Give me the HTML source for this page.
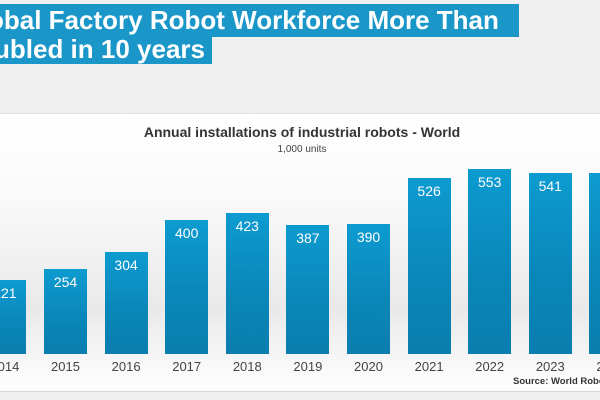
<!DOCTYPE html>
<html><head><meta charset="utf-8"><style>
body{margin:0;width:600px;height:400px;overflow:hidden;background:#f0f0f0;font-family:"Liberation Sans",Arial,sans-serif;position:relative}
.hl{position:absolute;left:0;background:#1a96c8;color:#fff;font-weight:bold;font-size:26px;line-height:29px;white-space:nowrap;overflow:hidden}
.chart{position:absolute;left:0;top:113px;width:600px;height:277px;background:linear-gradient(#ffffff 0%,#fafafa 30%,#e9e9e9 70%,#f6f6f6 88%,#ffffff 100%);border-top:1px solid #e2e2e2;border-bottom:1px solid #d8d8d8}
.bar{position:absolute;width:43px;background:linear-gradient(#0d9bd0,#0a86b8 60%,#0a7eae);color:#fff;font-size:14px;text-align:center;box-sizing:border-box;padding-top:5px}
.yr{position:absolute;width:60px;text-align:center;font-size:13px;color:#444;top:359px}
</style></head><body>
<div class="hl" style="top:4px;width:519px;height:31px;text-indent:-12px;padding-top:2px">obal Factory Robot Workforce More Than</div>
<div class="hl" style="top:35px;width:212px;height:29px;text-indent:-6px">ubled in 10 years</div>
<div class="chart"></div>
<div style="position:absolute;top:124px;left:0;width:604px;text-align:center;font-weight:bold;font-size:14px;color:#333">Annual installations of industrial robots - World</div>
<div style="position:absolute;top:144px;left:0;width:604px;text-align:center;font-size:10px;color:#444">1,000 units</div>
<div id="b"></div>
<div style="position:absolute;top:376px;left:513px;font-size:9.5px;font-weight:bold;color:#333;white-space:nowrap">Source: World Robotics</div>
<script>
var v=[221,254,304,400,423,387,390,526,553,541,542],h='';
for(var i=0;i<11;i++){var x=-16.6+i*60.6,t=354-v[i]*0.3345;
h+='<div class="bar" style="left:'+x+'px;top:'+t+'px;height:'+(354-t)+'px">'+v[i]+'</div>';
h+='<div class="yr" style="left:'+(x-8.5)+'px">'+(2014+i)+'</div>';}
document.getElementById('b').innerHTML=h;
</script>
</body></html>
